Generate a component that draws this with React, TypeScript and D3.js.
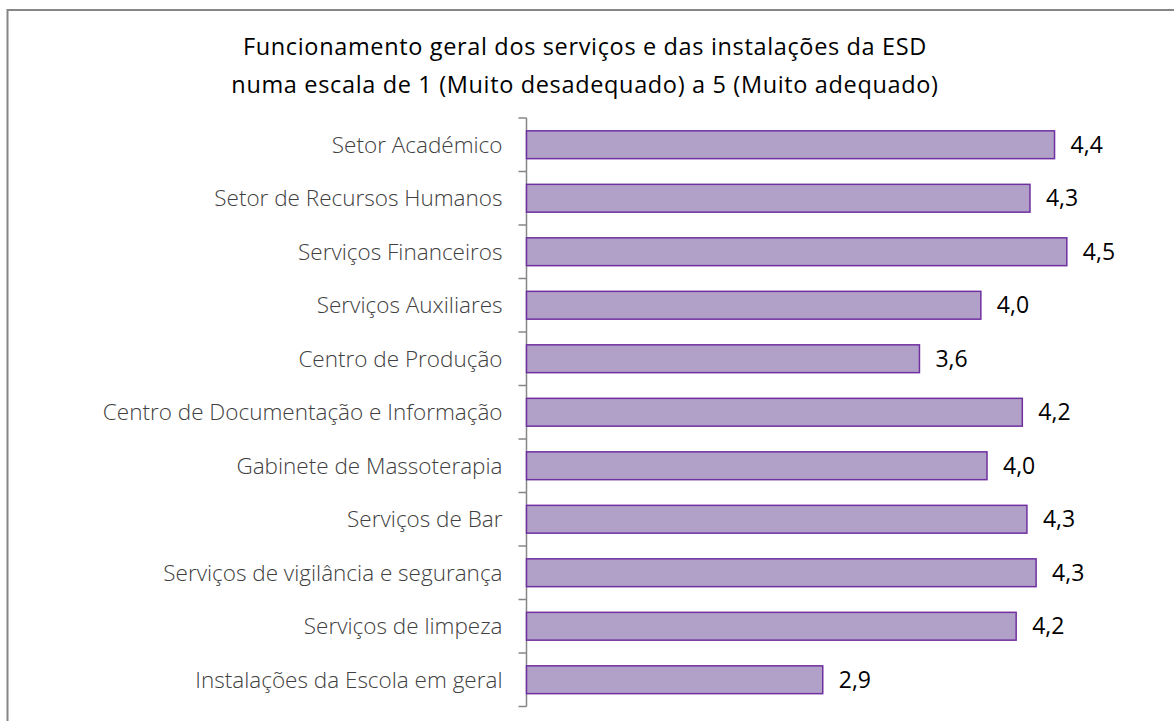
import React from "react";
import * as d3 from "d3";

const categories = [
  "Setor Académico",
  "Setor de Recursos Humanos",
  "Serviços Financeiros",
  "Serviços Auxiliares",
  "Centro de Produção",
  "Centro de Documentação e Informação",
  "Gabinete de Massoterapia",
  "Serviços de Bar",
  "Serviços de vigilância e segurança",
  "Serviços de limpeza",
  "Instalações da Escola em geral",
];
const values = [4.44, 4.28, 4.52, 3.96, 3.56, 4.23, 4.0, 4.26, 4.32, 4.19, 2.93];
const titleLines = [
  "Funcionamento geral dos serviços e das instalações da ESD",
  "numa escala de 1 (Muito desadequado) a 5 (Muito adequado)",
];
const xDomain = [1, 5];

const W = 1174;
const H = 721;
const plotLeft = 526.5;
const plotRight = 1140.5;
const plotTop = 118;
const plotBottom = 706.5;

export default function App() {
  const x = d3.scaleLinear().domain(xDomain).range([plotLeft, plotRight]);
  const y = d3
    .scaleBand<string>()
    .domain(categories)
    .range([plotTop, plotBottom])
    .paddingInner(0.48)
    .paddingOuter(0.24);
  const fmt = (v: number) => d3.format(".1f")(v).replace(".", ",");
  const bw = y.bandwidth();
  const boundaries = d3
    .range(categories.length + 1)
    .map((i) => plotTop + i * ((plotBottom - plotTop) / categories.length));

  return (
    <svg
      width={W}
      height={H}
      style={{ position: "absolute", left: 0, top: 0, background: "#fff" }}
    >
      <rect x={0} y={0} width={W} height={H} fill="#fff" />
      <rect x={7.5} y={10} width={1200} height={800} fill="none" stroke="#868686" strokeWidth={2} />
      <g fontFamily="Open Sans, Lato, sans-serif" fill="#000" textAnchor="middle" fontSize={23.5} letterSpacing={0.65}>
        {titleLines.map((t, i) => (
          <text key={i} x={585} y={54.5 + i * 38}>
            {t}
          </text>
        ))}
      </g>
      <line x1={plotLeft} x2={plotLeft} y1={plotTop} y2={plotBottom} stroke="#868686" strokeWidth={1.5} />
      {boundaries.map((b, i) => (
        <line key={i} x1={plotLeft - 8} x2={plotLeft} y1={b} y2={b} stroke="#868686" strokeWidth={1.5} />
      ))}
      {categories.map((c, i) => (
        <g key={c}>
          <rect
            x={x(1)}
            y={y(c)!}
            width={x(values[i]) - x(1)}
            height={bw}
            fill="#B1A0C7"
            stroke="#7030A0"
            strokeWidth={1.5}
          />
          <text
            x={plotLeft - 24}
            y={y(c)! + bw / 2}
            dy="0.35em"
            textAnchor="end"
            fontFamily="Open Sans, sans-serif"
            fontWeight={300}
            fontSize={22.5}
            fill="#404040"
          >
            {c}
          </text>
          <text
            x={x(values[i]) + 16}
            y={y(c)! + bw / 2}
            dy="0.35em"
            textAnchor="start"
            fontFamily="Open Sans, sans-serif"
            fontSize={23}
            fill="#000"
          >
            {fmt(values[i])}
          </text>
        </g>
      ))}
    </svg>
  );
}
